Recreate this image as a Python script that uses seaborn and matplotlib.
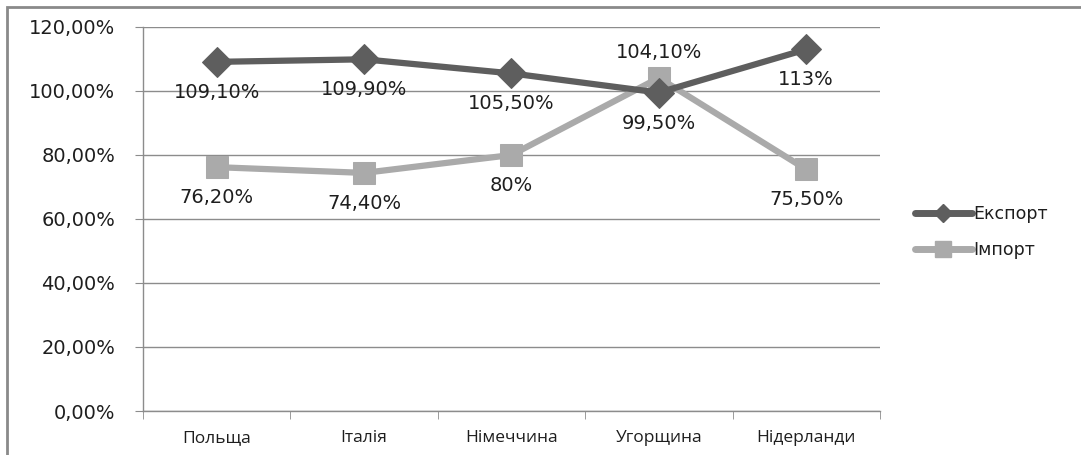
import pandas as pd
import numpy as np
import matplotlib
matplotlib.use("Agg")
import matplotlib.pyplot as plt
import seaborn as sns
from matplotlib.lines import Line2D
from matplotlib.patches import Rectangle

sns.set_style("white")
plt.rcParams['font.family'] = ['Open Sans', 'DejaVu Sans']

# дані
countries = ["Польща", "Італія", "Німеччина", "Угорщина", "Нідерланди"]
export_vals = [109.1, 109.9, 105.5, 99.5, 113.0]
import_vals = [76.2, 74.4, 80.0, 104.1, 75.5]
export_labels = ["109,10%", "109,90%", "105,50%", "99,50%", "113%"]
import_labels = ["76,20%", "74,40%", "80%", "104,10%", "75,50%"]
yticks = [0, 20, 40, 60, 80, 100, 120]
ytick_labels = ["0,00%", "20,00%", "40,00%", "60,00%", "80,00%", "100,00%", "120,00%"]

df = pd.DataFrame({"country": countries, "export": export_vals, "import": import_vals})

c_exp = "#5e5e5e"
c_imp = "#aaaaaa"
grid_c = "#8c8c8c"
txt_c = "#1e1e1e"
num_font = ["DejaVu Sans"]

fig = plt.figure(figsize=(10.81, 4.55), dpi=100)
ax = fig.add_axes([0.1323, 0.0967, 0.6817, 0.844])

x = np.arange(len(countries))
sns.lineplot(x=x, y=df["export"], ax=ax, color=c_exp, lw=4.5, marker="D",
             markersize=15, markeredgecolor=c_exp, zorder=4)
sns.lineplot(x=x, y=df["import"], ax=ax, color=c_imp, lw=4.5, marker="s",
             markersize=16, markeredgecolor=c_imp, zorder=3)

# підписи значень
for i in range(len(countries)):
    ax.annotate(export_labels[i], (x[i], export_vals[i]), xytext=(0, -22),
                textcoords="offset points", ha="center", va="center",
                fontsize=14, family=num_font, color=txt_c, zorder=6)
    dy = 18 if i == 3 else -22
    ax.annotate(import_labels[i], (x[i], import_vals[i]), xytext=(0, dy),
                textcoords="offset points", ha="center", va="center",
                fontsize=14, family=num_font, color=txt_c, zorder=6)

ax.set_xlim(-0.5, 4.5)
ax.set_ylim(0, 120)
ax.set_yticks(yticks)
ax.set_yticklabels(ytick_labels, fontsize=14, family=num_font, color=txt_c)
ax.set_xticks(x)
ax.set_xticklabels(countries, fontsize=12.5, color=txt_c)
ax.set_xlabel("")
ax.set_ylabel("")
ax.yaxis.grid(True, color=grid_c, lw=1)
ax.set_axisbelow(True)
for s in ["top", "right"]:
    ax.spines[s].set_visible(False)
for s in ["left", "bottom"]:
    ax.spines[s].set_color(grid_c)
    ax.spines[s].set_linewidth(1)

# поділки
ax.tick_params(axis="y", which="major", length=6, color=grid_c, direction="out", pad=14, left=True)
ax.tick_params(axis="x", which="major", length=0, pad=14)
ax.set_xticks(np.arange(-0.5, 5.0, 1.0), minor=True)
ax.tick_params(axis="x", which="minor", length=6, color=grid_c, direction="out", bottom=True)

handles = [
    Line2D([], [], color=c_exp, lw=5, marker="D", markersize=9),
    Line2D([], [], color=c_imp, lw=5, marker="s", markersize=11),
]
fig.legend(handles, ["Експорт", "Імпорт"], loc="center left",
           bbox_to_anchor=(0.835, 0.49), frameon=False,
           prop={"family": num_font, "size": 12.5},
           handlelength=3.3, handletextpad=0.05, labelspacing=1.0,
           borderpad=0.2, labelcolor=txt_c)

# рамка
fig.add_artist(Rectangle((0.0065, -0.1), 1.2, 1.085, transform=fig.transFigure,
                         fill=False, ec="#8a8a8a", lw=2))

fig.savefig("out.png", dpi=100)
